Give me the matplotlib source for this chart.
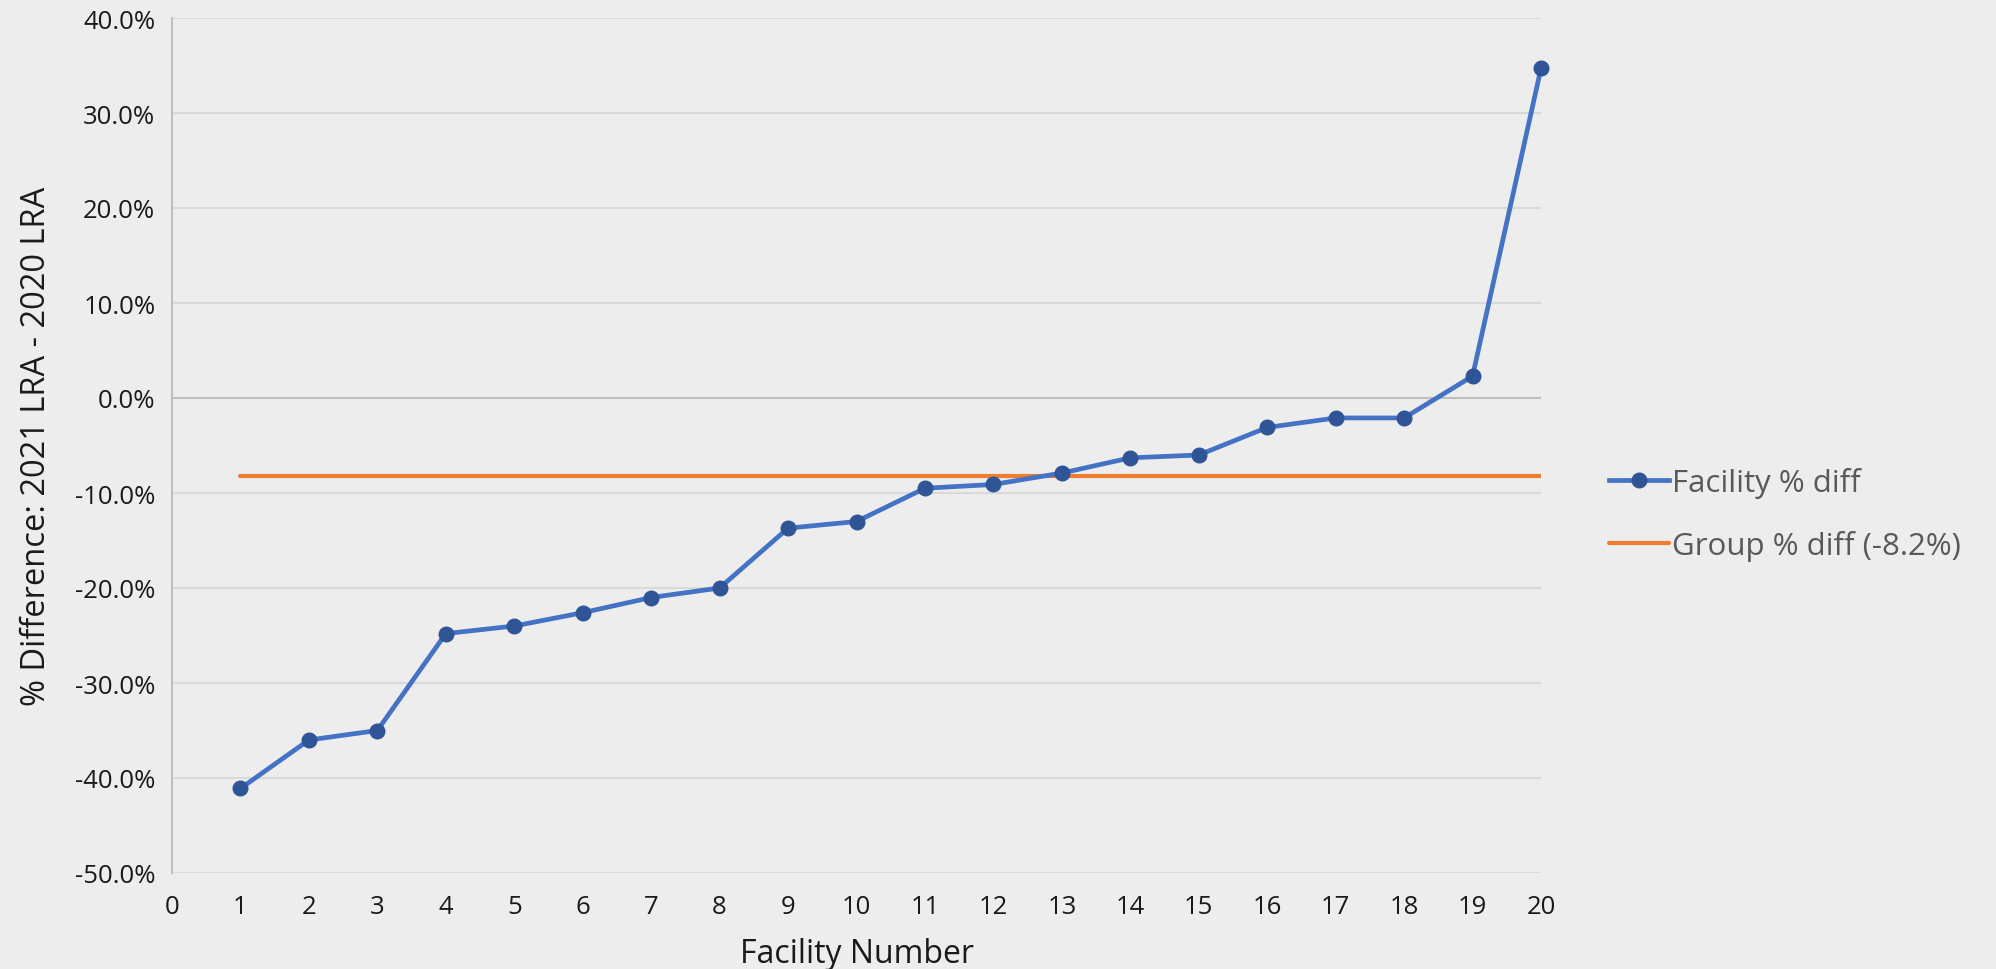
import numpy as np
import matplotlib.pyplot as plt
from matplotlib.ticker import FuncFormatter

# facility % differences
facility = list(range(1, 21))
pct_diff = [-41.1, -36.0, -35.0, -24.8, -24.0, -22.6, -21.0, -20.0, -13.7, -13.0,
            -9.5, -9.1, -7.9, -6.3, -6.0, -3.1, -2.1, -2.1, 2.3, 34.7]
group_diff = -8.2

plt.rcParams['font.family'] = ['Open Sans', 'DejaVu Sans']

bg = '#EDEDED'
fig = plt.figure(figsize=(19.96, 9.70), dpi=100, facecolor=bg)
ax = fig.add_axes([172 / 1996, 1 - 874 / 970, (1541 - 172) / 1996, (874 - 19) / 970])
ax.set_facecolor(bg)

ax.plot(facility, [group_diff] * len(facility), color='#ED7D31', lw=3,
        solid_capstyle='round', label='Group % diff (-8.2%)', zorder=3)
ax.plot(facility, pct_diff, color='#4472C4', lw=3.4, marker='o', markersize=10.5,
        markerfacecolor='#2F5597', markeredgecolor='#2F5597',
        label='Facility % diff', zorder=4, clip_on=False)

ax.set_xlim(0, 20)
ax.set_ylim(-50, 40)
ax.set_xticks(range(0, 21))
ax.set_yticks(np.arange(-50, 41, 10))
ax.yaxis.set_major_formatter(FuncFormatter(lambda v, p: f'{v:.1f}%'))
ax.tick_params(length=0, labelsize=18.5, colors='#1a1a1a')
ax.tick_params(axis='x', pad=15)
ax.tick_params(axis='y', pad=12)

ax.grid(axis='y', color='#D9D9D9', lw=1.5)
ax.axhline(0, color='#BFBFBF', lw=1.5, zorder=2)
for s in ['top', 'right', 'bottom']:
    ax.spines[s].set_visible(False)
ax.spines['left'].set_color('#BFBFBF')
ax.spines['left'].set_linewidth(1.5)
ax.set_axisbelow(True)

ax.set_xlabel('Facility Number', fontsize=23, color='#1a1a1a', labelpad=13)
ax.set_ylabel('% Difference: 2021 LRA - 2020 LRA', fontsize=23.5, color='#1a1a1a', labelpad=16)

h, l = ax.get_legend_handles_labels()
leg = fig.legend(h[::-1], l[::-1], loc='center left', bbox_to_anchor=(1581 / 1996, 1 - 515 / 970),
                 frameon=False, fontsize=22.5, handlelength=1.9, handletextpad=0.1,
                 labelspacing=1.05, labelcolor='#595959')

fig.savefig('out.png', dpi=100, facecolor=bg)
